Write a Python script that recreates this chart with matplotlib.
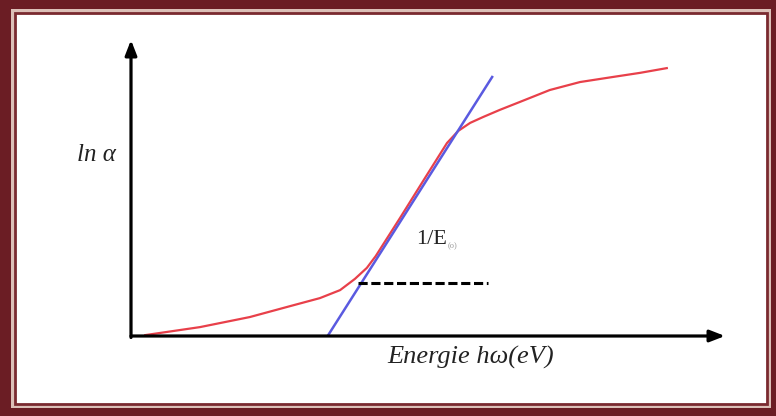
import matplotlib.pyplot as plt
from matplotlib.patches import Rectangle

# red absorption curve (arbitrary units)
energy = [0.24, 1.16, 2.00, 2.68, 3.18, 3.52, 3.77, 3.97, 4.12, 4.53, 4.95, 5.32,
          5.51, 5.71, 5.93, 6.21, 6.55, 7.05, 7.56, 8.11, 8.57, 9.02]
ln_alpha = [0.03, 0.30, 0.64, 1.01, 1.28, 1.55, 1.93, 2.30, 2.70, 3.99, 5.34, 6.52,
            6.93, 7.20, 7.40, 7.64, 7.91, 8.31, 8.58, 8.75, 8.89, 9.05]

# blue tangent line and dashed level
tangent_x = [3.32, 6.08]
tangent_y = [0.03, 8.75]
dash_x = [3.82, 6.01]
dash_y = [1.79, 1.79]

W, H = 776, 416
fig = plt.figure(figsize=(W / 100, H / 100), dpi=100)
fig.patch.set_facecolor("#6b1d24")

# frame
def px_rect(x0, y0, x1, y1, **kw):
    return Rectangle((x0 / W, 1 - y1 / H), (x1 - x0) / W, (y1 - y0) / H,
                     transform=fig.transFigure, zorder=-5, **kw)

fig.add_artist(px_rect(11, 9, 771, 408, facecolor="#dcc0b8", edgecolor="none"))
fig.add_artist(px_rect(15, 13, 767, 404, facecolor="white", edgecolor="#7a2a30", linewidth=2))

ax = fig.add_axes([131 / W, (H - 336) / H, 594 / W, 296 / H])
ax.set_xlim(0, 10)
ax.set_ylim(0, 10)
ax.axis("off")

# axes arrows
arrow = dict(arrowstyle="-|>,head_length=0.9,head_width=0.35", color="black", lw=2.3,
             shrinkA=0, shrinkB=0)
ax.annotate("", xy=(10, 0), xytext=(0, 0), arrowprops=arrow, annotation_clip=False)
ax.annotate("", xy=(0, 10), xytext=(0, -0.05), arrowprops=arrow, annotation_clip=False)

ax.plot(energy, ln_alpha, color="#e8404a", lw=1.6, clip_on=False)
ax.plot(tangent_x, tangent_y, color="#5a5ae0", lw=1.8, clip_on=False)
ax.plot(dash_x, dash_y, color="black", lw=2.2, linestyle=(0, (3, 1.2)))

serif = ["Liberation Serif", "DejaVu Serif"]
ax.text(5.71, -0.72, "Energie hω(eV)", family=serif, style="italic", fontsize=19,
        ha="center", va="center", color="#222222")
ax.text(-0.25, 6.1, "ln α", family=serif, style="italic", fontsize=18,
        ha="right", va="center", color="#222222")
ax.text(4.80, 3.25, "1/E", family=serif, fontsize=16, ha="left", va="center",
        color="#222222")
ax.text(5.33, 3.05, "(o)", family=serif, fontsize=6, ha="left", va="center",
        color="#999999")

fig.savefig("out.png", dpi=100, facecolor=fig.get_facecolor())
